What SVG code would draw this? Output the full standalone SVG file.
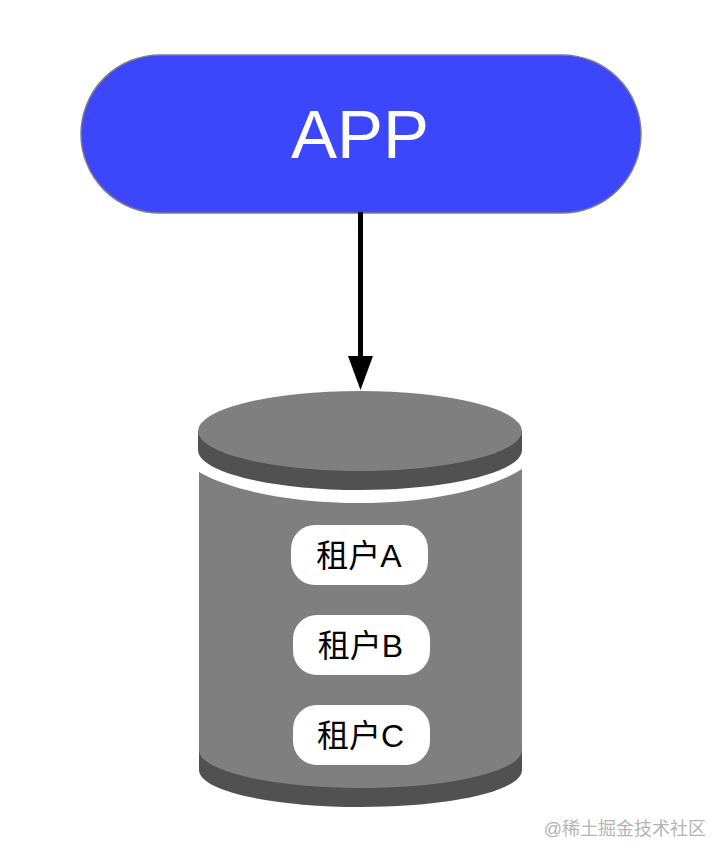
<svg xmlns="http://www.w3.org/2000/svg" width="728" height="862" viewBox="0 0 728 862">
<style>
.dark{fill:#515151}
.mid{fill:#7f7f7f}
.pill{fill:#fff}
.t{font-family:"Liberation Sans","Noto Sans CJK SC",sans-serif;fill:#000;font-size:32px;text-anchor:middle}
</style>
<rect width="728" height="862" fill="#fff"/>
<g id="app">
<rect x="81" y="55" width="560" height="158" rx="79" ry="79" fill="#3c46fa" stroke="#7d7d8c" stroke-width="1.5"/>
<text x="360" y="158" font-family="'Liberation Sans',sans-serif" font-size="69" fill="#fff" text-anchor="middle">APP</text>
</g>
<g id="connectors">
<line x1="360.500" y1="212" x2="360.500" y2="358" stroke="#000" stroke-width="5"/>
<path d="M348 356H373L360.500 390Z" fill="#000"/>
</g>
<g id="database">
<path class="dark" d="M199 749V770C199 791 272 807 361 807C450 807 522 791 522 770V749Z"/>
<path class="mid" d="M199 472C232 491 293 503 360 503C427 503 489 490 522 469V750C522 771 450 788 361 788C272 788 199 771 199 750Z"/>
<path class="dark" d="M198 431V450C198 472 271 490 360 490C449 490 522 472 522 450V431Z"/>
<ellipse class="mid" cx="360" cy="431" rx="162" ry="40"/>
</g>
<g id="tenant-a">
<rect class="pill" x="291" y="525" width="137" height="60" rx="24"/>
<text class="t" x="359" y="567">租户A</text>
</g>
<g id="tenant-b">
<rect class="pill" x="293" y="615" width="137" height="60" rx="24"/>
<text class="t" x="360.500" y="657">租户B</text>
</g>
<g id="tenant-c">
<rect class="pill" x="293" y="705" width="137" height="60" rx="24"/>
<text class="t" x="360.500" y="747">租户C</text>
</g>
<text id="watermark" x="706" y="835" font-family="'Liberation Sans','Noto Sans CJK SC',sans-serif" font-size="18" fill="#b4b4b4" text-anchor="end">@稀土掘金技术社区</text>
</svg>
